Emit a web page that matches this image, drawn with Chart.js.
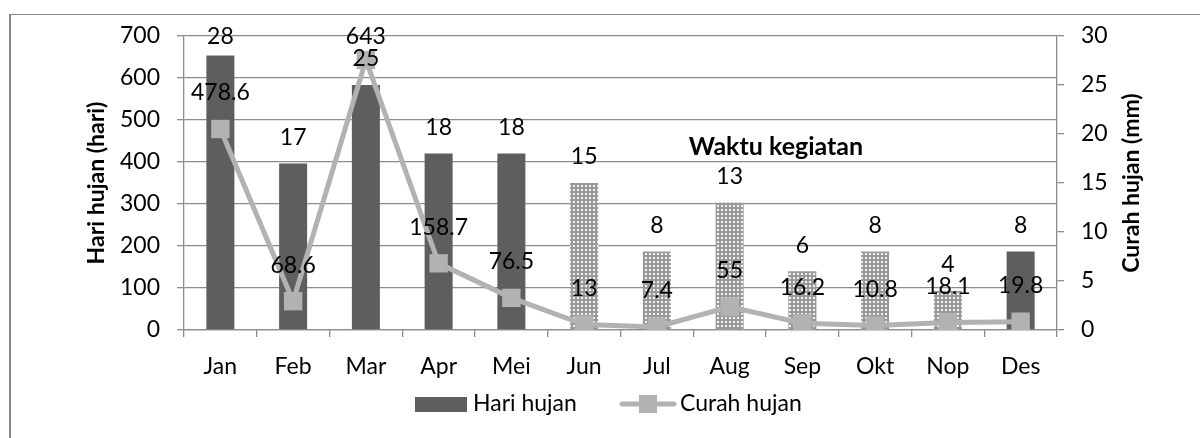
<!DOCTYPE html>
<html>
<head>
<meta charset="utf-8">
<script src="https://cdn.jsdelivr.net/npm/chart.js@4/dist/chart.umd.min.js"></script>
<style>
  html, body { margin: 0; padding: 0; background: #fff; overflow: hidden; }
  #wrap { position: relative; width: 1200px; height: 438px; }
  #frame { position: absolute; left: 9px; top: 14px; width: 1300px; height: 500px;
           border-left: 2px solid #8a8a8a; border-top: 1px solid #8a8a8a; }
  canvas { position: absolute; left: 0; top: 0; }
</style>
</head>
<body>
<div id="wrap">
  <div id="frame"></div>
  <canvas id="myChart" width="1200" height="438"></canvas>
</div>
<script>
// data
var bulan = ['Jan', 'Feb', 'Mar', 'Apr', 'Mei', 'Jun', 'Jul', 'Aug', 'Sep', 'Okt', 'Nop', 'Des'];
var hariHujan = [28, 17, 25, 18, 18, 15, 8, 13, 6, 8, 4, 8];
var curahHujan = [478.6, 68.6, 643, 158.7, 76.5, 13, 7.4, 55, 16.2, 10.8, 18.1, 19.8];
// 1 = month inside "Waktu kegiatan" (dotted bars)
var waktuKegiatan = [0, 0, 0, 0, 0, 1, 1, 1, 1, 1, 1, 0];
var ticksKiri = [0, 100, 200, 300, 400, 500, 600, 700];
var ticksKanan = [0, 5, 10, 15, 20, 25, 30];

var FONT = 'Lato, "Open Sans", sans-serif';
var FS = 23;
var GRID = '#8c8c8c';
var DARK = '#5e5e5e';
var LIGHT = '#b2b2b2';

function dotPattern() {
  var c = document.createElement('canvas');
  c.width = 4; c.height = 4;
  var g = c.getContext('2d');
  g.fillStyle = '#999999';
  g.fillRect(0, 0, 4, 4);
  g.fillStyle = '#f2f2f2';
  g.fillRect(1, 1, 2, 2);
  return g.createPattern(c, 'repeat');
}
var dots = dotPattern();
var barColors = waktuKegiatan.map(function(k) { return k ? dots : DARK; });

// labels, axis titles, annotation and legend drawn by hand
var extras = {
  id: 'extras',
  afterDatasetsDraw: function(chart) {
    var ctx = chart.ctx;
    var area = chart.chartArea;
    ctx.save();
    ctx.fillStyle = '#000';
    ctx.textAlign = 'center';
    ctx.textBaseline = 'middle';
    ctx.font = FS + 'px ' + FONT;

    chart.getDatasetMeta(0).data.forEach(function(bar, i) {
      var y = Math.max(bar.y - 26, area.top + 1);
      ctx.fillText(String(hariHujan[i]), bar.x, y);
    });
    chart.getDatasetMeta(1).data.forEach(function(pt, i) {
      var y = Math.max(pt.y - 36, area.top + 1);
      ctx.fillText(String(curahHujan[i]), pt.x, y);
    });

    // annotation
    ctx.font = 'bold 25px ' + FONT;
    ctx.fillText('Waktu kegiatan', area.left + (area.right - area.left) * 0.678, chart.scales.y.getPixelForValue(435));

    // axis titles (both read bottom to top)
    var midY = (area.top + area.bottom) / 2;
    ctx.font = 'bold 23px ' + FONT;
    ctx.save();
    ctx.translate(97, midY);
    ctx.rotate(-Math.PI / 2);
    ctx.fillText('Hari hujan (hari)', 0, 0);
    ctx.restore();
    ctx.save();
    ctx.translate(1132, midY);
    ctx.rotate(-Math.PI / 2);
    ctx.fillText('Curah hujan (mm)', 0, 0);
    ctx.restore();

    // legend
    var ly = 404;
    ctx.font = FS + 'px ' + FONT;
    ctx.textAlign = 'left';
    ctx.fillStyle = DARK;
    ctx.fillRect(415, ly - 7, 52, 15);
    ctx.fillStyle = '#000';
    ctx.fillText(chart.data.datasets[0].label, 473, ly);
    ctx.strokeStyle = LIGHT;
    ctx.lineWidth = 5;
    ctx.lineCap = 'round';
    ctx.beginPath();
    ctx.moveTo(622, ly);
    ctx.lineTo(674, ly);
    ctx.stroke();
    ctx.fillStyle = LIGHT;
    ctx.fillRect(639, ly - 9, 18, 18);
    ctx.fillStyle = '#000';
    ctx.fillText(chart.data.datasets[1].label, 680, ly);
    ctx.restore();
  }
};

new Chart(document.getElementById('myChart'), {
  type: 'bar',
  data: {
    labels: bulan,
    datasets: [{
      type: 'bar',
      label: 'Hari hujan',
      data: hariHujan,
      yAxisID: 'y1',
      backgroundColor: barColors,
      borderWidth: 0,
      barPercentage: 0.385,
      categoryPercentage: 1,
      order: 2
    }, {
      type: 'line',
      label: 'Curah hujan',
      data: curahHujan,
      yAxisID: 'y',
      borderColor: LIGHT,
      backgroundColor: LIGHT,
      borderWidth: 5,
      tension: 0,
      pointStyle: 'rect',
      pointRadius: 13,
      pointBorderWidth: 0,
      order: 1
    }]
  },
  options: {
    responsive: false,
    animation: false,
    devicePixelRatio: 1,
    layout: { padding: { left: 0, right: 0, top: 36, bottom: 48 } },
    plugins: {
      legend: { display: false },
      tooltip: { enabled: false }
    },
    scales: {
      x: {
        offset: true,
        grid: { offset: true, drawOnChartArea: false, tickLength: 7, color: GRID, lineWidth: 1.3 },
        border: { color: GRID, width: 1.3 },
        ticks: { color: '#000', font: { family: FONT, size: FS }, padding: 16, maxRotation: 0 },
        afterFit: function(s) { s.height = 60; }
      },
      y: {
        position: 'left',
        min: 0, max: 700,
        afterBuildTicks: function(s) { s.ticks = ticksKiri.map(function(v) { return { value: v }; }); },
        grid: { color: GRID, lineWidth: 1.3, tickLength: 7 },
        border: { color: GRID, width: 1.3 },
        ticks: { color: '#000', font: { family: FONT, size: FS }, padding: 17 },
        afterFit: function(s) { s.width = 184; }
      },
      y1: {
        position: 'right',
        min: 0, max: 30,
        afterBuildTicks: function(s) { s.ticks = ticksKanan.map(function(v) { return { value: v }; }); },
        grid: { drawOnChartArea: false, color: GRID, lineWidth: 1.3, tickLength: 7 },
        border: { color: GRID, width: 1.3 },
        ticks: { color: '#000', font: { family: FONT, size: FS }, padding: 17 },
        afterFit: function(s) { s.width = 143; }
      }
    }
  },
  plugins: [extras]
});
</script>
</body>
</html>
